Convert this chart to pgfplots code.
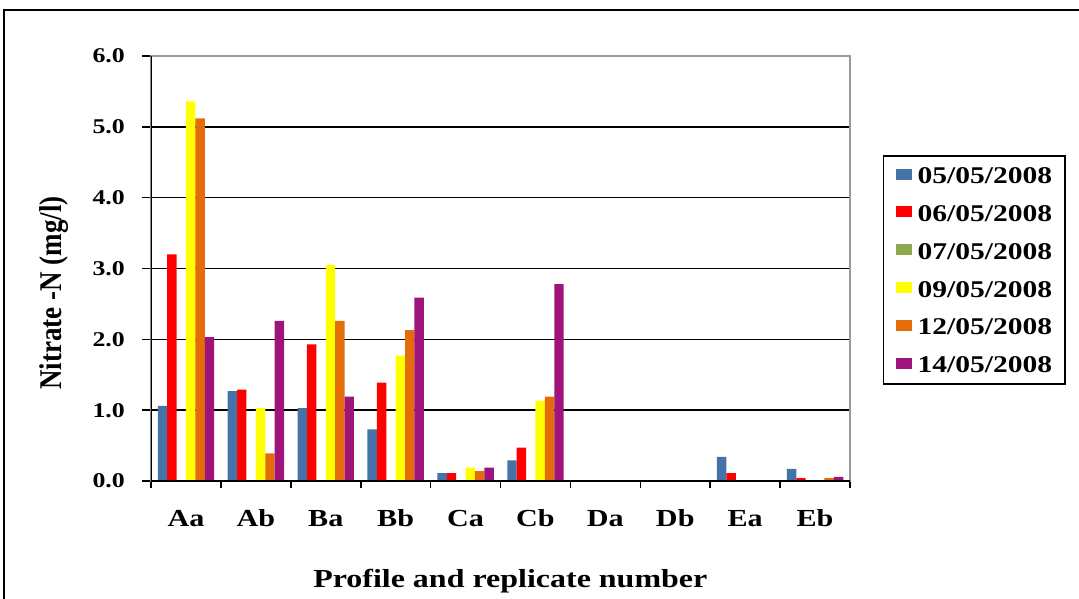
\documentclass[border=0pt]{standalone}
\usepackage{pgfplots}
\pgfplotsset{compat=1.18}
\usepackage{fontspec}
\setmainfont{Liberation Serif}[FakeStretch=1.23]
\newfontfamily\ylabfont{Liberation Serif}
\definecolor{cblue}{HTML}{4572A7}
\definecolor{cred}{HTML}{FF0000}
\definecolor{cgreen}{HTML}{8EA84E}
\definecolor{cyellow}{HTML}{FFFF00}
\definecolor{corange}{HTML}{E46C0A}
\definecolor{cpurple}{HTML}{9E147A}
\begin{document}
\begin{tikzpicture}
\useasboundingbox (0,0) rectangle (1079pt,598pt);
\draw[line width=1.5pt] (4pt,-20pt) -- (4pt,588pt) -- (1100pt,588pt);
\begin{axis}[
  at={(151pt,117pt)}, anchor=south west,
  scale only axis, width=699pt, height=425pt,
  xmin=0.5, xmax=10.5, ymin=0, ymax=6,
  ybar=0pt, bar width=9.4pt,
  xtick={1,...,10},
  xticklabels={Aa,Ab,Ba,Bb,Ca,Cb,Da,Db,Ea,Eb},
  minor xtick={0.5,1.5,...,10.5},
  ytick={0,1,...,6},
  tick pos=left, tick align=outside,
  major tick length=9pt, minor tick length=7pt,
  major x tick style={draw=none},
  minor x tick style={black, line width=1.6pt},
  ytick style={black, line width=1.6pt},
  ymajorgrids, grid style={black, line width=1.6pt},
  axis line style={draw=gray!80, line width=1.6pt},
  /pgf/number format/fixed, /pgf/number format/fixed zerofill, /pgf/number format/precision=1, /pgf/number format/assume math mode=true,
  yticklabel style={font=\fontsize{21}{21}\selectfont\bfseries, anchor=east, inner sep=0pt, xshift=-17pt},
  xticklabel style={font=\fontsize{24.5}{24.5}\selectfont\bfseries, anchor=north, inner sep=0pt, text height=17pt, text depth=0pt, yshift=-19pt},
  xlabel={Profile and replicate number},
  xlabel style={font=\fontsize{26}{26}\selectfont\bfseries, at={(axis description cs:0.514,-0.2494)}, anchor=base},
  ylabel={\scalebox{1}[1.17]{\ylabfont\bfseries\fontsize{27}{27}\selectfont Nitrate -N (mg/l)}},
  ylabel style={at={(axis description cs:-0.1388,0.4424)}, anchor=center},
  legend style={at={(axis description cs:1.047,0.767)}, anchor=north west,
    draw=black, line width=1.6pt, inner xsep=12pt, inner ysep=10pt,
    row sep=19.4pt, column sep=5pt, font=\fontsize{24}{24}\selectfont\bfseries,
    nodes={inner sep=1pt, text height=16.5pt, text depth=0pt}},
  legend cell align=left,
  legend image code/.code={\fill[#1,draw=none] (0pt,-4.5pt) rectangle (16pt,6.5pt);},
]
\addplot[fill=cblue, draw=none] coordinates {(1,1.06) (2,1.27) (3,1.03) (4,0.73) (5,0.11) (6,0.29) (7,0) (8,0) (9,0.34) (10,0.17)};
\addplot[fill=cred, draw=none] coordinates {(1,3.20) (2,1.29) (3,1.93) (4,1.39) (5,0.11) (6,0.47) (7,0) (8,0) (9,0.11) (10,0.04)};
\addplot[fill=cgreen, draw=none] coordinates {(1,0) (2,0) (3,0) (4,0) (5,0) (6,0) (7,0) (8,0) (9,0) (10,0)};
\addplot[fill=cyellow, draw=none] coordinates {(1,5.36) (2,1.03) (3,3.05) (4,1.77) (5,0.19) (6,1.13) (7,0) (8,0) (9,0) (10,0)};
\addplot[fill=corange, draw=none] coordinates {(1,5.12) (2,0.39) (3,2.26) (4,2.13) (5,0.14) (6,1.19) (7,0) (8,0) (9,0) (10,0.04)};
\addplot[fill=cpurple, draw=none] coordinates {(1,2.03) (2,2.26) (3,1.19) (4,2.59) (5,0.19) (6,2.78) (7,0) (8,0) (9,0) (10,0.06)};
\legend{05/05/2008,06/05/2008,07/05/2008,09/05/2008,12/05/2008,14/05/2008}
\draw[black, line width=2.2pt] (rel axis cs:0,1) -- (rel axis cs:0,0) -- (rel axis cs:1,0);
\end{axis}
\end{tikzpicture}
\end{document}
